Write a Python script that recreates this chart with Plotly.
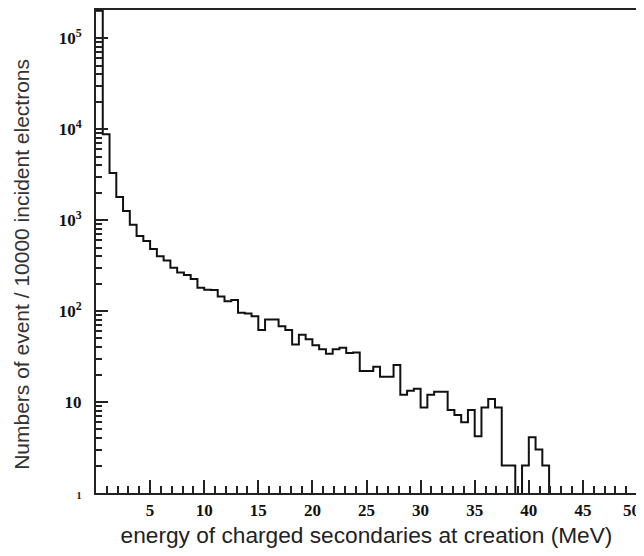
import plotly.graph_objects as go

# energy histogram, 80 bins of 0.625 MeV from 0 to 50 MeV
bin_width = 0.625
counts = [
    200000, 8800, 3300, 1800, 1260, 890, 670, 590,
    480, 400, 360, 300, 265, 250, 225, 180,
    172, 170, 145, 128, 132, 96, 94, 88,
    62, 81, 81, 68, 62, 43, 55, 49,
    42, 38, 34, 38, 39.5, 34.5, 35, 22,
    22, 24.5, 19, 19, 25.5, 12, 13.3, 14,
    8.7, 12, 13, 13, 8.2, 7.2, 6, 8.2,
    4.2, 8.7, 10.8, 8.7, 2, 2, 0, 2,
    4.1, 3, 2, 0, 0, 0, 0, 0,
    0, 0, 0, 0, 0, 0, 0, 0,
]

x_tickvals = [5, 10, 15, 20, 25, 30, 35, 40, 45, 50]
x_ticktext = ["5", "10", "15", "20", "25", "30", "35", "40", "45", "50"]
y_tickvals = [1, 10, 100, 1000, 10000, 100000]
y_ticktext = ["<span style='font-size:10px'>1</span>", "10", "10<sup>2</sup>",
              "10<sup>3</sup>", "10<sup>4</sup>", "10<sup>5</sup>"]

edges = [i * bin_width for i in range(len(counts) + 1)]
# empty bins drawn below the axis so the step drops to the frame
y_plot = [c if c > 0 else 0.3 for c in counts]
y_plot.append(y_plot[-1])

minor_y = [m * 10 ** d for d in range(0, 6) for m in range(2, 10)]

tick_font = dict(family="Liberation Serif", size=17, color="#111111", weight="bold")

fig = go.Figure()
fig.add_trace(
    go.Scatter(
        x=edges,
        y=y_plot,
        mode="lines",
        line=dict(shape="hv", color="#111111", width=2),
        showlegend=False,
        hoverinfo="skip",
    )
)

# the last x label would run off the page, so it is drawn as a note nudged left
fig.add_annotation(
    text=x_ticktext[-1],
    x=x_tickvals[-1],
    xref="x",
    y=0,
    yref="paper",
    xanchor="center",
    yanchor="top",
    xshift=-6,
    yshift=-6,
    showarrow=False,
    font=tick_font,
)
fig.add_annotation(
    text="Numbers of event / 10000 incident electrons",
    xref="paper",
    yref="paper",
    x=-0.139,
    y=0.474,
    xanchor="center",
    yanchor="middle",
    textangle=-90,
    showarrow=False,
    font=dict(family="Liberation Sans", size=21, color="#333333"),
)

# page body adds an 8px margin, so the figure is sized to fit inside it
fig.update_layout(
    width=636,
    height=540,
    margin=dict(l=88, r=7, t=2, b=55),
    paper_bgcolor="white",
    plot_bgcolor="white",
    xaxis=dict(
        range=[0, 50],
        automargin=False,
        showgrid=False,
        zeroline=False,
        showline=True,
        linewidth=2,
        linecolor="#222222",
        mirror=True,
        ticks="inside",
        ticklen=13,
        tickwidth=2,
        tickcolor="#222222",
        tickvals=x_tickvals,
        ticktext=x_ticktext[:-1] + [""],
        tickfont=tick_font,
        ticklabelstandoff=1,
        minor=dict(ticks="inside", dtick=1, ticklen=7, tickwidth=1.5,
                   tickcolor="#222222", showgrid=False),
        title=dict(
            text="energy of charged secondaries at creation (MeV)",
            font=dict(family="Liberation Sans", size=22.7, color="#222222"),
            standoff=11,
        ),
    ),
    yaxis=dict(
        type="log",
        range=[0, 5.31],
        automargin=False,
        showgrid=False,
        zeroline=False,
        showline=True,
        linewidth=2,
        linecolor="#222222",
        mirror=True,
        ticks="inside",
        ticklen=12,
        tickwidth=2,
        tickcolor="#222222",
        tickvals=y_tickvals,
        ticktext=y_ticktext,
        tickfont=tick_font,
        ticklabelstandoff=9,
        minor=dict(ticks="inside", tickvals=minor_y, ticklen=6, tickwidth=1.5,
                   tickcolor="#222222", showgrid=False),
    ),
)

fig.write_html("out.html")
